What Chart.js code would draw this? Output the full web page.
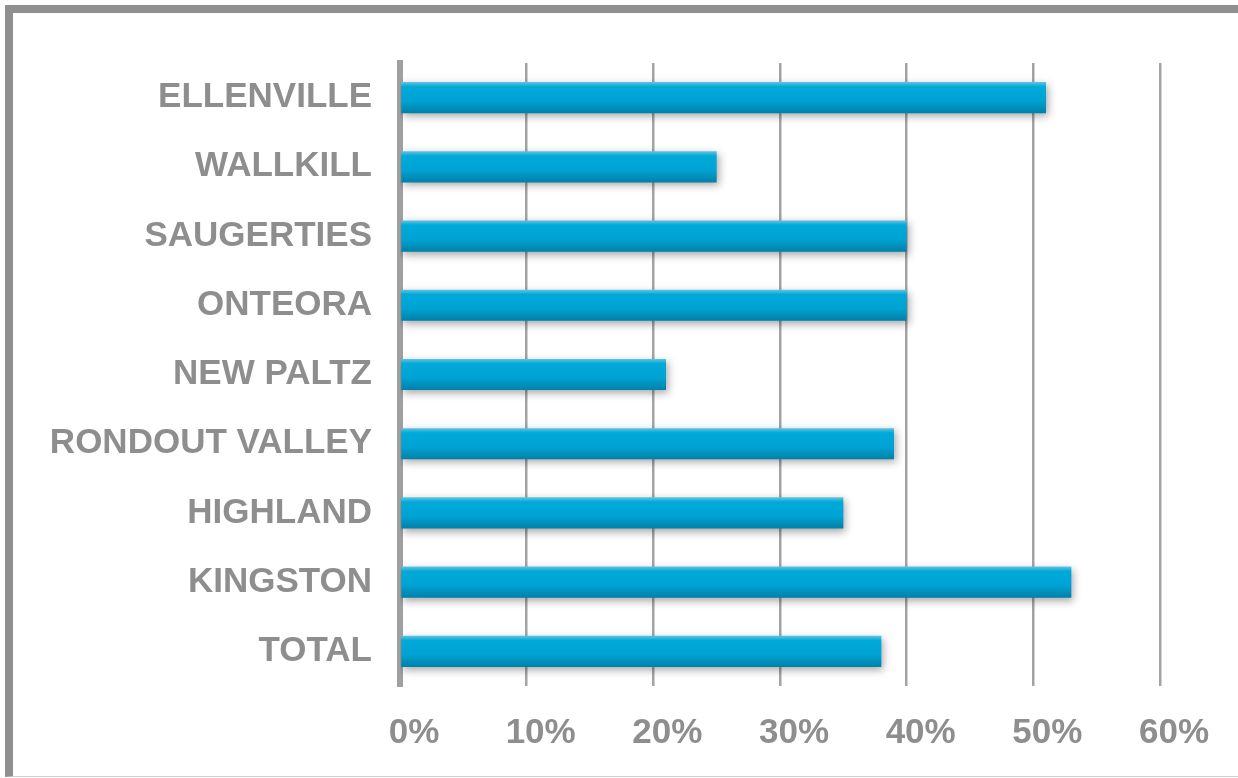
<!DOCTYPE html>
<html>
<head>
<meta charset="utf-8">
<script src="https://cdn.jsdelivr.net/npm/chart.js@4/dist/chart.umd.min.js"></script>
<style>
  html, body { margin: 0; padding: 0; background: #fff; }
  #wrap { position: relative; width: 1238px; height: 778px; overflow: hidden; }
  #frame {
    position: absolute; left: 5px; top: 5px; right: -20px; bottom: 1px;
    border-left: 8px solid #8f8f8f;
    border-top: 8px solid #8f8f8f;
    border-bottom: 1px solid #cfcfcf;
  }
  #chart { position: absolute; left: 0; top: 0; }
</style>
</head>
<body>
<div id="wrap">
  <div id="frame"></div>
  <canvas id="chart" width="1238" height="778"></canvas>
</div>
<script>
// ข้อมูล
const districts = ['ELLENVILLE', 'WALLKILL', 'SAUGERTIES', 'ONTEORA', 'NEW PALTZ',
                   'RONDOUT VALLEY', 'HIGHLAND', 'KINGSTON', 'TOTAL'];
const percents = [51, 25, 40, 40, 21, 39, 35, 53, 38];
const xTicks = [0, 10, 20, 30, 40, 50, 60];

const textGray = '#8e8e8e';
const labelFont = { family: '"Liberation Sans", Arial, sans-serif', size: 35, weight: 'bold' };

// ไล่สีแท่งจากบนลงล่าง
function barFill(ctx) {
    const chart = ctx.chart;
    const yScale = chart.scales.y;
    if (!yScale || ctx.dataIndex === undefined) return '#00a5d5';
    const c = yScale.getPixelForValue(ctx.dataIndex);
    const half = (yScale.height / districts.length) * 0.45 / 2;
    if (!isFinite(c) || !isFinite(half) || half <= 0) return '#00a5d5';
    const g = chart.ctx.createLinearGradient(0, c - half, 0, c + half);
    g.addColorStop(0, '#62c3e2');
    g.addColorStop(0.15, '#00a9d9');
    g.addColorStop(0.6, '#00a3d3');
    g.addColorStop(1, '#0080a9');
    return g;
}

// เงาใต้แท่ง
const barShadow = {
    id: 'barShadow',
    beforeDatasetsDraw(chart) {
        const c = chart.ctx;
        c.save();
        c.shadowColor = 'rgba(0,0,0,0.35)';
        c.shadowBlur = 8;
        c.shadowOffsetX = 2;
        c.shadowOffsetY = 3;
    },
    afterDatasetsDraw(chart) {
        chart.ctx.restore();
    }
};

new Chart(document.getElementById('chart').getContext('2d'), {
    type: 'bar',
    data: {
        labels: districts,
        datasets: [{
            data: percents,
            backgroundColor: barFill,
            borderWidth: 0,
            categoryPercentage: 1,
            barPercentage: 0.45
        }]
    },
    options: {
        indexAxis: 'y',
        responsive: false,
        animation: false,
        layout: { padding: { left: 0, right: 78, top: 63, bottom: 0 } },
        plugins: { legend: { display: false }, tooltip: { enabled: false } },
        scales: {
            x: {
                min: 0,
                max: 60,
                afterBuildTicks(axis) { axis.ticks = xTicks.map(v => ({ value: v })); },
                afterFit(axis) { axis.height = 92; },
                grid: { color: '#a3a3a3', lineWidth: 2.5, drawTicks: false },
                border: { display: false },
                ticks: {
                    color: textGray,
                    font: labelFont,
                    padding: 26,
                    labelOffset: 14,
                    callback: v => v + '%'
                }
            },
            y: {
                afterFit(axis) { axis.width = 400; },
                grid: { display: false, drawTicks: false },
                border: { display: true, color: '#a0a0a0', width: 6 },
                ticks: {
                    color: textGray,
                    font: labelFont,
                    padding: 28
                }
            }
        }
    },
    plugins: [barShadow]
});
</script>
</body>
</html>
